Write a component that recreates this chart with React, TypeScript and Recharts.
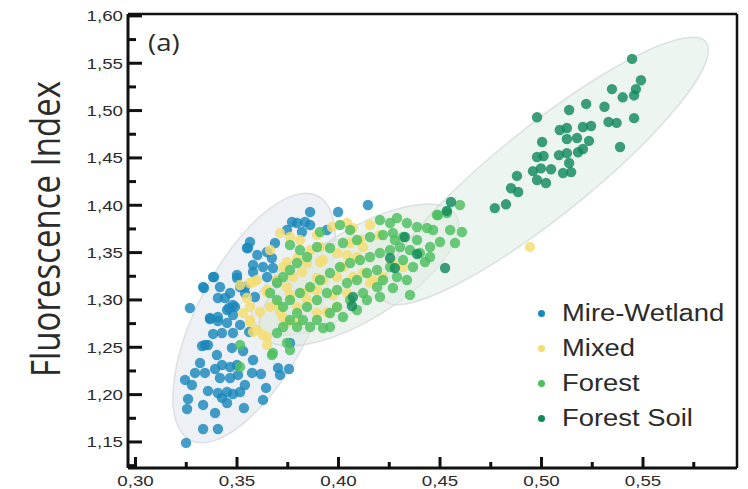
import {
  Legend,
  ReferenceArea,
  ReferenceLine,
  Scatter,
  ScatterChart,
  XAxis,
  YAxis,
} from "recharts";

// [FI x-value, Fluorescence Index]
const MIRE_WETLAND: [number, number][] = [
  [0.3268, 1.2915], [0.3337, 1.3126], [0.3387, 1.3242], [0.3416, 1.3137], [0.3406, 1.302],
  [0.35, 1.3232], [0.3539, 1.3137], [0.3554, 1.3549], [0.346, 1.2915], [0.348, 1.2841],
  [0.3367, 1.2799], [0.3406, 1.2778], [0.3382, 1.2641], [0.3426, 1.2651], [0.3451, 1.2757],
  [0.3328, 1.2514], [0.3357, 1.2524], [0.3401, 1.2419], [0.3475, 1.2493], [0.353, 1.2461],
  [0.3579, 1.2366], [0.3318, 1.2334], [0.3293, 1.2229], [0.3342, 1.2229], [0.3392, 1.2271],
  [0.3426, 1.2313], [0.3466, 1.2292], [0.35, 1.2313], [0.3416, 1.2176], [0.3466, 1.2176],
  [0.3505, 1.2208], [0.3539, 1.2102], [0.3244, 1.2155], [0.3278, 1.2102], [0.3357, 1.2039],
  [0.3406, 1.2017], [0.3451, 1.2028], [0.348, 1.2007], [0.3515, 1.2028], [0.3426, 1.1965],
  [0.3451, 1.1912], [0.3333, 1.1891], [0.3392, 1.1806], [0.3259, 1.1954], [0.3254, 1.1848],
  [0.3534, 1.1859], [0.3628, 1.1944], [0.3643, 1.2071], [0.3618, 1.2218], [0.3574, 1.2229],
  [0.3333, 1.1637], [0.3406, 1.1637], [0.3249, 1.149], [0.3702, 1.2282], [0.3756, 1.2271],
  [0.3712, 1.2208], [0.3761, 1.2545], [0.356, 1.2662], [0.348, 1.2651], [0.3515, 1.2736],
  [0.348, 1.2947], [0.3588, 1.3031], [0.3579, 1.3295], [0.3628, 1.3348], [0.3648, 1.3242],
  [0.3697, 1.32], [0.3672, 1.3443], [0.36, 1.3475], [0.386, 1.3929], [0.3998, 1.3929],
  [0.4145, 1.4003], [0.3771, 1.3823], [0.3796, 1.3813], [0.3835, 1.3823], [0.386, 1.3791],
  [0.3564, 1.3612], [0.3549, 1.3549], [0.3687, 1.3601], [0.3648, 1.3506], [0.3746, 1.3739],
  [0.382, 1.3718], [0.3943, 1.3739], [0.3579, 1.3369], [0.3677, 1.3337], [0.35, 1.3263],
  [0.3382, 1.3242], [0.3333, 1.3137], [0.3515, 1.3137], [0.3539, 1.3073], [0.3466, 1.3073],
  [0.3441, 1.302], [0.349, 1.2926], [0.3451, 1.2894], [0.3406, 1.282], [0.3367, 1.281],
  [0.3342, 1.2524],
];

const MIXED: [number, number][] = [
  [0.3712, 1.3707], [0.3761, 1.3665], [0.3894, 1.3686], [0.3968, 1.377], [0.4071, 1.376],
  [0.4155, 1.3791], [0.4042, 1.3813], [0.3564, 1.3179], [0.3599, 1.3211], [0.3648, 1.3105],
  [0.3697, 1.3211], [0.3746, 1.3137], [0.3776, 1.3242], [0.3727, 1.3348], [0.3845, 1.339],
  [0.3796, 1.3443], [0.386, 1.3527], [0.3909, 1.3559], [0.3924, 1.3422], [0.3993, 1.3496],
  [0.4057, 1.3601], [0.4091, 1.3454], [0.4121, 1.3559], [0.4022, 1.3348], [0.3993, 1.3242],
  [0.4071, 1.3242], [0.4121, 1.3285], [0.417, 1.3211], [0.3924, 1.3211], [0.3894, 1.3105],
  [0.3825, 1.3073], [0.3564, 1.2926], [0.353, 1.2862], [0.3564, 1.2788], [0.3599, 1.2683],
  [0.3648, 1.2609], [0.3613, 1.2873], [0.3663, 1.2926], [0.3712, 1.2873], [0.3796, 1.2926],
  [0.3845, 1.2999], [0.3746, 1.2757], [0.3796, 1.2767], [0.3894, 1.2862], [0.3943, 1.2873],
  [0.3993, 1.2926], [0.4042, 1.3073], [0.4155, 1.3179], [0.4219, 1.3242], [0.4268, 1.339],
  [0.4318, 1.3348], [0.4943, 1.356], [0.3564, 1.2767], [0.3628, 1.263], [0.3648, 1.2524],
  [0.3579, 1.2662], [0.3727, 1.281], [0.3697, 1.2947], [0.3549, 1.302], [0.3515, 1.3158],
  [0.3579, 1.319], [0.3648, 1.3084], [0.3761, 1.3052], [0.386, 1.3126], [0.382, 1.3295],
  [0.3746, 1.3401], [0.3909, 1.3401], [0.3894, 1.3232], [0.3973, 1.3052], [0.4042, 1.3475],
  [0.4204, 1.3686], [0.4106, 1.3633], [0.381, 1.3633], [0.3663, 1.3527],
];

const FOREST: [number, number][] = [
  [0.4204, 1.3844], [0.4254, 1.3813], [0.4288, 1.3865], [0.4337, 1.3813], [0.4387, 1.377],
  [0.4436, 1.376], [0.4466, 1.3739], [0.449, 1.3897], [0.4534, 1.3918], [0.4598, 1.4003],
  [0.4608, 1.3718], [0.45, 1.3612], [0.4451, 1.3559], [0.4387, 1.3633], [0.4318, 1.3665],
  [0.4268, 1.3707], [0.4219, 1.3686], [0.4155, 1.3665], [0.4091, 1.3633], [0.4022, 1.3601],
  [0.3958, 1.3549], [0.3894, 1.3559], [0.3845, 1.3454], [0.3796, 1.339], [0.3761, 1.3316],
  [0.3727, 1.3242], [0.3697, 1.3179], [0.3663, 1.3073], [0.3697, 1.2999], [0.3727, 1.2926],
  [0.3761, 1.2999], [0.381, 1.3073], [0.386, 1.3137], [0.3909, 1.3211], [0.3958, 1.3285],
  [0.4007, 1.3348], [0.4057, 1.339], [0.4106, 1.3422], [0.4155, 1.3454], [0.4204, 1.3496],
  [0.4254, 1.3527], [0.4303, 1.3559], [0.4352, 1.3527], [0.4401, 1.3496], [0.4451, 1.3454],
  [0.4318, 1.3422], [0.4254, 1.3348], [0.419, 1.3316], [0.414, 1.3285], [0.4091, 1.3211],
  [0.4042, 1.3179], [0.3993, 1.3105], [0.3943, 1.3073], [0.3894, 1.2999], [0.3845, 1.2926],
  [0.3796, 1.2862], [0.3761, 1.2788], [0.3825, 1.2788], [0.3894, 1.2788], [0.3958, 1.2862],
  [0.3993, 1.2926], [0.4057, 1.2999], [0.4121, 1.3073], [0.419, 1.3137], [0.4219, 1.3211],
  [0.4288, 1.3242], [0.4337, 1.3211], [0.4268, 1.3126], [0.4204, 1.3031], [0.414, 1.2999],
  [0.4091, 1.2894], [0.4022, 1.282], [0.3958, 1.2714], [0.3924, 1.2704], [0.386, 1.2714],
  [0.3796, 1.2714], [0.3727, 1.2714], [0.3697, 1.2651], [0.3746, 1.2545], [0.3677, 1.244],
  [0.3515, 1.2524], [0.3672, 1.2419], [0.3761, 1.2471], [0.3515, 1.2292], [0.4485, 1.3897],
  [0.381, 1.3527], [0.3761, 1.358], [0.4057, 1.3739], [0.3909, 1.3718], [0.4007, 1.3791],
  [0.4278, 1.3633], [0.4426, 1.3401], [0.4367, 1.3348], [0.455, 1.3739], [0.4574, 1.3601],
  [0.4352, 1.3052],
];

const FOREST_SOIL: [number, number][] = [
  [0.5446, 1.5546], [0.549, 1.532], [0.5347, 1.5227], [0.5465, 1.5227], [0.54, 1.514],
  [0.5456, 1.516], [0.522, 1.507], [0.531, 1.504], [0.5136, 1.5006], [0.4978, 1.493],
  [0.5456, 1.492], [0.533, 1.488], [0.537, 1.487], [0.5204, 1.4826], [0.5244, 1.4837],
  [0.509, 1.4795], [0.5125, 1.4816], [0.5175, 1.471], [0.5234, 1.468], [0.5125, 1.47],
  [0.5003, 1.4668], [0.5387, 1.4615], [0.5204, 1.4594], [0.518, 1.456], [0.5125, 1.455],
  [0.5086, 1.453], [0.501, 1.452], [0.4978, 1.451], [0.5136, 1.4446], [0.5047, 1.438],
  [0.4997, 1.439], [0.4958, 1.436], [0.5106, 1.434], [0.5146, 1.435], [0.4879, 1.431],
  [0.4978, 1.4267], [0.5022, 1.4235], [0.485, 1.418], [0.4885, 1.414], [0.4825, 1.401],
  [0.477, 1.397], [0.4554, 1.4034], [0.4534, 1.394], [0.4254, 1.3443], [0.4278, 1.3337],
  [0.4387, 1.3485], [0.4071, 1.3031], [0.4066, 1.2936], [0.4525, 1.3337], [0.4327, 1.3665],
];

const SERIES_NAMES = ["Mire-Wetland", "Mixed", "Forest", "Forest Soil"];

// confidence ellipses: centre, end of major axis, minor/major ratio
const ELLIPSE_CENTER: [number, number][] = [
  [0.3584, 1.2809], [0.3933, 1.3158], [0.4101, 1.3263], [0.5017, 1.4362],
];
const ELLIPSE_END: [number, number][] = [
  [0.3899, 1.4098], [0.4281, 1.3555], [0.4579, 1.3897], [0.581, 1.5724],
];
const ELLIPSE_RATIO = [0.41, 0.47, 0.39, 0.22];

const X_TICKS = [0.3, 0.325, 0.35, 0.375, 0.4, 0.425, 0.45, 0.475, 0.5, 0.525, 0.55, 0.575];
const X_MAJOR = [0.3, 0.35, 0.4, 0.45, 0.5, 0.55];
const Y_TICKS = [
  1.125, 1.15, 1.175, 1.2, 1.225, 1.25, 1.275, 1.3, 1.325, 1.35, 1.375, 1.4,
  1.425, 1.45, 1.475, 1.5, 1.525, 1.55, 1.575, 1.6,
];
const Y_MAJOR = [1.15, 1.2, 1.25, 1.3, 1.35, 1.4, 1.45, 1.5, 1.55, 1.6];

const X_DOMAIN: [number, number] = [0.2963, 0.5963];
const Y_DOMAIN: [number, number] = [1.1225, 1.602];

const COLORS: Record<string, string> = {
  "Mire-Wetland": "#1a88bb",
  Mixed: "#f4dd72",
  Forest: "#4cc05e",
  "Forest Soil": "#118a5c",
};
const ELLIPSE_FILL = ["#dfe6ee", "#e6e7e0", "#dde9df", "#dfece3"];

const INK = "#111";
const TEXT = "#2b2b2b";
const SANS = "'Liberation Sans', Arial, sans-serif";

const isIn = (list: number[], v: number) => list.some((m) => Math.abs(m - v) < 1e-6);
const fmt = (v: number) => v.toFixed(2).replace(".", ",");
const toPoints = (arr: [number, number][]) => arr.map(([x, y]) => ({ x, y }));

function XTick(props: any) {
  const { x, y, payload } = props;
  const major = isIn(X_MAJOR, payload.value);
  return (
    <g className="x-tick">
      <path d={`M${x},${y}V${y - (major ? 11 : 6)}`} stroke={INK} strokeWidth={3} fill="none" />
      {major && (
        <text
          transform={`translate(${x},${y + 18}) scale(1.25,1)`}
          textAnchor="middle"
          fontSize={15}
          fontFamily={SANS}
          fill={TEXT}
        >
          {fmt(payload.value)}
        </text>
      )}
    </g>
  );
}

function YTick(props: any) {
  const { x, y, payload } = props;
  const major = isIn(Y_MAJOR, payload.value);
  return (
    <g className="y-tick">
      <path d={`M${x},${y}H${x + (major ? 14 : 8)}`} stroke={INK} strokeWidth={3} fill="none" />
      {major && (
        <text
          transform={`translate(${x - 5},${y + 5.5}) scale(1.25,1)`}
          textAnchor="end"
          fontSize={15}
          fontFamily={SANS}
          fill={TEXT}
        >
          {fmt(payload.value)}
        </text>
      )}
    </g>
  );
}

// ReferenceArea spans centre -> end of major axis; the rotated ellipse is drawn from it
function ellipseShape(ratio: number, fill: string) {
  return (p: any) => {
    const { x, y, width, height } = p;
    const cx = x;
    const cy = y + height;
    const a = Math.hypot(width, height);
    const ang = (Math.atan2(-height, width) * 180) / Math.PI;
    return (
      <ellipse
        cx={cx}
        cy={cy}
        rx={a}
        ry={a * ratio}
        transform={`rotate(${ang} ${cx} ${cy})`}
        fill={fill}
        fillOpacity={0.55}
        stroke="#c9d1d6"
        strokeOpacity={0.6}
        strokeWidth={1.5}
      />
    );
  };
}

function LegendContent() {
  return (
    <div style={{ fontFamily: SANS, fontSize: 23, color: TEXT }}>
      {SERIES_NAMES.map((name) => (
        <div key={name} style={{ display: "flex", alignItems: "center", height: 35 }}>
          <span
            style={{
              width: 7,
              height: 7,
              borderRadius: "50%",
              background: COLORS[name],
              marginRight: 17,
              flexShrink: 0,
            }}
          />
          <span
            style={{
              display: "inline-block",
              transform: "scaleX(1.19)",
              transformOrigin: "left center",
              whiteSpace: "nowrap",
            }}
          >
            {name}
          </span>
        </div>
      ))}
    </div>
  );
}

export default function App() {
  const series = [MIRE_WETLAND, MIXED, FOREST, FOREST_SOIL];
  return (
    <div style={{ position: "absolute", left: 0, top: 0, background: "#fff" }}>
      <ScatterChart width={748} height={489} margin={{ top: 14, right: 11, bottom: 0, left: 0 }}>
        <XAxis
          type="number"
          dataKey="x"
          domain={X_DOMAIN}
          allowDataOverflow
          ticks={X_TICKS}
          interval={0}
          height={21}
          tickSize={0}
          tickMargin={0}
          tickLine={false}
          tick={<XTick />}
          axisLine={{ stroke: INK, strokeWidth: 3 }}
        />
        <YAxis
          type="number"
          dataKey="y"
          domain={Y_DOMAIN}
          allowDataOverflow
          ticks={Y_TICKS}
          interval={0}
          width={128}
          tickSize={0}
          tickMargin={0}
          tickLine={false}
          tick={<YTick />}
          axisLine={{ stroke: INK, strokeWidth: 3 }}
          label={{
            content: () => (
              <text
                transform="translate(60,229) scale(1.2,1) rotate(-90)"
                textAnchor="middle"
                fontSize={33}
                fontFamily="'Open Sans', sans-serif"
                fill={TEXT}
              >
                Fluorescence Index
              </text>
            ),
          }}
        />
        {ELLIPSE_CENTER.map(([cx, cy], i) => (
          <ReferenceArea
            key={SERIES_NAMES[i]}
            x1={cx}
            x2={ELLIPSE_END[i][0]}
            y1={cy}
            y2={ELLIPSE_END[i][1]}
            shape={ellipseShape(ELLIPSE_RATIO[i], ELLIPSE_FILL[i])}
          />
        ))}
        <ReferenceLine y={Y_DOMAIN[1]} stroke={INK} strokeWidth={2.5} />
        <ReferenceLine x={X_DOMAIN[1]} stroke={INK} strokeWidth={2.5} />
        {series.map((data, i) => (
          <Scatter
            key={SERIES_NAMES[i]}
            name={SERIES_NAMES[i]}
            data={toPoints(data)}
            fill={COLORS[SERIES_NAMES[i]]}
            legendType="circle"
            isAnimationActive={false}
            shape={(p: any) => (
              <circle cx={p.cx} cy={p.cy} r={5.2} fill={COLORS[SERIES_NAMES[i]]} fillOpacity={0.82} />
            )}
          />
        ))}
        <Legend
          layout="vertical"
          align="center"
          verticalAlign="middle"
          content={<LegendContent />}
          wrapperStyle={{ left: 538, top: 296, width: 200, height: 140 }}
        />
        <text
          transform="translate(148,51) scale(1.15,1)"
          fontSize={24}
          fontFamily="'Open Sans', sans-serif"
          fill={TEXT}
        >
          (a)
        </text>
      </ScatterChart>
    </div>
  );
}
